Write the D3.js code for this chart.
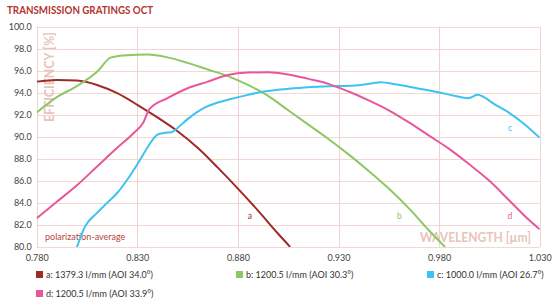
<!DOCTYPE html>
<html>
<head>
<meta charset="utf-8">
<script src="https://cdnjs.cloudflare.com/ajax/libs/d3/7.8.5/d3.min.js"></script>
<style>
  body { margin: 0; background: #fff; }
  svg { display: block; font-family: Lato, "Open Sans", sans-serif; }
</style>
</head>
<body>
<svg id="chart" width="554" height="308"></svg>
<script>
// data
let seriesKeys = ['a', 'b', 'c', 'd'];
let seriesNames = ['a: 1379.3 l/mm (AOI 34.0°)', 'b: 1200.5 l/mm (AOI 30.3°)', 'c: 1000.0 l/mm (AOI 26.7°)', 'd: 1200.5 l/mm (AOI 33.9°)'];
let seriesColors = ['#9e2b25', '#8cc865', '#3cc3ef', '#e8579b'];

let xTicks = [0.780, 0.830, 0.880, 0.930, 0.980, 1.030];
let yTicks = [80, 82, 84, 86, 88, 90, 92, 94, 96, 98, 100];

let aWave = [0.780, 0.790, 0.800, 0.810, 0.820, 0.830, 0.840, 0.850, 0.860, 0.870, 0.880, 0.890, 0.900, 0.906];
let aEff  = [95.0, 95.15, 95.1, 94.7, 93.95, 92.9, 91.75, 90.5, 89.0, 87.2, 85.3, 83.3, 81.2, 80.0];

let bWave = [0.780, 0.790, 0.800, 0.810, 0.817, 0.825, 0.835, 0.845, 0.855, 0.865, 0.875, 0.885, 0.895, 0.905, 0.915, 0.925, 0.935, 0.945, 0.955, 0.965, 0.975, 0.983];
let bEff  = [92.2, 93.6, 94.6, 95.9, 97.2, 97.4, 97.45, 97.2, 96.7, 96.1, 95.5, 94.7, 93.7, 92.4, 91.1, 89.8, 88.4, 86.9, 85.3, 83.5, 81.5, 80.0];

let cWave = [0.800, 0.804, 0.810, 0.815, 0.820, 0.825, 0.831, 0.836, 0.840, 0.843, 0.847, 0.850, 0.855, 0.863, 0.870, 0.876, 0.885, 0.893, 0.905, 0.915, 0.926, 0.940, 0.947, 0.951, 0.959, 0.969, 0.979, 0.988, 0.994, 0.996, 0.999, 1.008, 1.015, 1.022, 1.030];
let cEff  = [80.0, 81.85, 83.1, 84.0, 84.9, 86.1, 87.8, 89.3, 90.2, 90.35, 90.4, 90.8, 91.6, 92.6, 93.1, 93.4, 93.8, 94.1, 94.35, 94.5, 94.57, 94.67, 94.85, 94.95, 94.73, 94.4, 94.06, 93.7, 93.5, 93.57, 93.8, 92.9, 92.15, 91.2, 89.9];

let dWave = [0.780, 0.790, 0.800, 0.810, 0.820, 0.828, 0.833, 0.836, 0.845, 0.855, 0.865, 0.875, 0.885, 0.895, 0.905, 0.915, 0.925, 0.935, 0.945, 0.955, 0.965, 0.975, 0.985, 0.995, 1.005, 1.015, 1.025, 1.030];
let dEff  = [82.6, 84.1, 85.6, 87.3, 89.0, 90.3, 91.3, 92.5, 93.5, 94.4, 95.0, 95.6, 95.82, 95.85, 95.65, 95.25, 94.8, 94.1, 93.3, 92.4, 91.3, 90.1, 88.9, 87.5, 86.0, 84.2, 82.4, 81.6];

let allWave = [aWave, bWave, cWave, dWave];
let allEff = [aEff, bEff, cEff, dEff];

let svgWidth = 554, svgHeight = 308;
let plotLeft = 36.7, plotRight = 539.7, plotTop = 26.5, plotBottom = 247;

let svg = d3.select('#chart');

let x = d3.scaleLinear().domain([0.780, 1.030]).range([plotLeft, plotRight]);
let y = d3.scaleLinear().domain([80, 100]).range([plotBottom, plotTop]);

// title
svg.append('text')
    .attr('x', 7)
    .attr('y', 14)
    .attr('fill', '#b3332e')
    .attr('font-size', 12)
    .attr('font-weight', 700)
    .attr('textLength', 146)
    .attr('lengthAdjust', 'spacingAndGlyphs')
    .text('TRANSMISSION GRATINGS OCT');

// grid
svg.append('g').selectAll('line')
    .data(yTicks)
    .enter()
    .append('line')
    .attr('x1', plotLeft).attr('x2', plotRight)
    .attr('y1', d => Math.round(y(d)) + 0.5)
    .attr('y2', d => Math.round(y(d)) + 0.5)
    .attr('stroke', '#f1d8d4')
    .attr('stroke-width', 1);

svg.append('g').selectAll('line')
    .data(xTicks)
    .enter()
    .append('line')
    .attr('x1', d => Math.round(x(d)) + 0.5)
    .attr('x2', d => Math.round(x(d)) + 0.5)
    .attr('y1', plotTop).attr('y2', plotBottom)
    .attr('stroke', '#eed3cf')
    .attr('stroke-width', 1);

// axes (labels only)
let yAxis = svg.append('g')
    .attr('transform', 'translate(' + (plotLeft - 5) + ',0)')
    .call(d3.axisLeft(y).tickValues(yTicks).tickFormat(d3.format('.1f')).tickSize(0).tickPadding(0));
let xAxis = svg.append('g')
    .attr('transform', 'translate(0,' + (plotBottom + 5) + ')')
    .call(d3.axisBottom(x).tickValues(xTicks).tickFormat(d3.format('.3f')).tickSize(0).tickPadding(3));
[yAxis, xAxis].forEach(ax => {
    ax.select('.domain').remove();
    ax.selectAll('text')
        .attr('fill', '#444')
        .attr('font-size', 9)
        .attr('font-family', 'Lato, sans-serif');
});

// axis titles
svg.append('text')
    .attr('transform', 'translate(54,77) rotate(-90)')
    .attr('text-anchor', 'middle')
    .attr('fill', '#e9c3bb')
    .attr('font-size', 13.5)
    .attr('font-weight', 700)
    .attr('textLength', 90)
    .attr('lengthAdjust', 'spacingAndGlyphs')
    .text('EFFICIENCY [%]');

svg.append('text')
    .attr('x', 531)
    .attr('y', 242)
    .attr('text-anchor', 'end')
    .attr('fill', '#e9c3bb')
    .attr('font-size', 14)
    .attr('font-weight', 700)
    .attr('textLength', 111)
    .attr('lengthAdjust', 'spacingAndGlyphs')
    .text('WAVELENGTH [µm]');

svg.append('text')
    .attr('x', 45)
    .attr('y', 240)
    .attr('fill', '#b4463f')
    .attr('font-size', 9)
    .text('polarization-average');

// curves
svg.append('clipPath').attr('id', 'plotclip')
    .append('rect')
    .attr('x', plotLeft).attr('y', plotTop - 2)
    .attr('width', plotRight - plotLeft).attr('height', plotBottom - plotTop + 2);

let line = d3.line()
    .x(d => x(d[0]))
    .y(d => y(d[1]))
    .curve(d3.curveMonotoneX);

let curves = svg.append('g').attr('clip-path', 'url(#plotclip)');
seriesKeys.forEach((k, i) => {
    let pts = allWave[i].map((w, j) => [w, allEff[i][j]]);
    curves.append('path')
        .attr('d', line(pts))
        .attr('fill', 'none')
        .attr('stroke', seriesColors[i])
        .attr('stroke-width', 2)
        .attr('stroke-linejoin', 'round');
});

// curve letters
let letterAt = [[0.886, 82.5], [0.9603, 82.5], [1.0152, 90.5], [1.0152, 82.5]];
seriesKeys.forEach((k, i) => {
    svg.append('text')
        .attr('x', x(letterAt[i][0]))
        .attr('y', y(letterAt[i][1]))
        .attr('text-anchor', 'middle')
        .attr('fill', seriesColors[i])
        .attr('font-size', 8.5)
        .text(k);
});

// legend
let legendX = [36, 236, 427, 36];
let legendY = [277, 277, 277, 296];
let legend = svg.append('g').selectAll('g')
    .data(seriesNames)
    .enter()
    .append('g')
    .attr('transform', (d, i) => 'translate(' + legendX[i] + ',' + legendY[i] + ')');
legend.append('rect')
    .attr('x', 0).attr('y', -6)
    .attr('width', 7).attr('height', 7)
    .attr('fill', (d, i) => seriesColors[i]);
legend.append('text')
    .attr('x', 10)
    .attr('y', 1)
    .attr('fill', '#333')
    .attr('font-size', 9)
    .text(d => d);
</script>
</body>
</html>
